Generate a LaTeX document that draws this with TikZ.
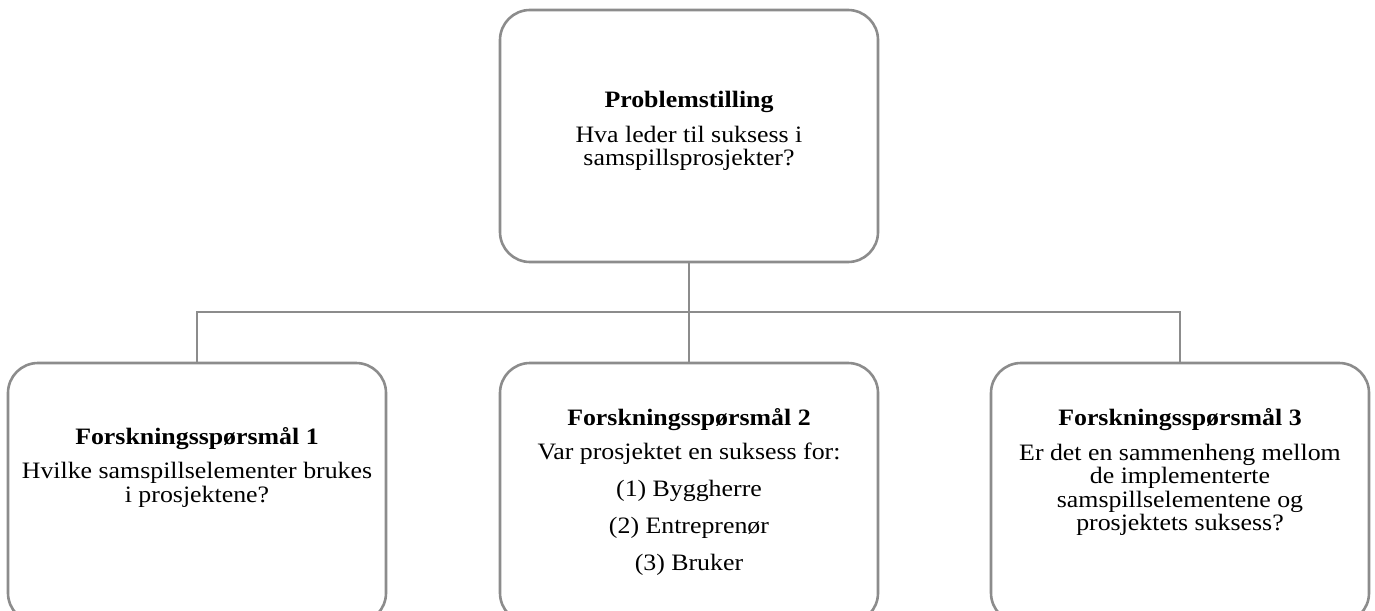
\documentclass[tikz,border=0pt]{standalone}
\usepackage{fontspec}
\setmainfont[FakeStretch=1.1]{Liberation Serif}
\definecolor{linegray}{RGB}{140,140,140}
\begin{document}
\begin{tikzpicture}[x=1pt,y=-1pt,
  qbox/.style={draw=linegray, line width=2.6pt, rounded corners=30pt,
    minimum width=378pt, minimum height=#1, inner sep=0pt},
  qtext/.style={align=center, inner sep=0pt, font=\fontsize{23.5}{23.5}\selectfont},
  link/.style={draw=linegray, line width=2.6pt, line join=miter}]
\useasboundingbox (0,0) rectangle (1375,610);
\clip (0,0) rectangle (1375,610);

% boxes
\node[qbox=252pt] (top) at (689,136) {};
\node[qbox=260pt] (b1) at (197,493) {};
\node[qbox=260pt] (b2) at (689,493) {};
\node[qbox=260pt] (b3) at (1180,493) {};

% texts
\node[qtext] (ttop) at (689,131) {\textbf{Problemstilling}\\[11pt]
  Hva leder til suksess i\\samspillsprosjekter?};
\node[qtext] (t1) at (197,467) {\textbf{Forskningsspørsmål 1}\\[11pt]
  Hvilke samspillselementer brukes\\i prosjektene?};
\node[qtext] (t2) at (689,492) {\textbf{Forskningsspørsmål 2}\\[11pt]
  Var prosjektet en suksess for:\\[13.5pt]
  (1) Byggherre\\[13.5pt](2) Entreprenør\\[13.5pt](3) Bruker};
\node[qtext] (t3) at (1180,472) {\textbf{Forskningsspørsmål 3}\\[11pt]
  Er det en sammenheng mellom\\de implementerte\\
  samspillselementene og\\prosjektets suksess?};

% connectors
\coordinate (bar) at (689,312);
\draw[link] (top.south) -- (bar) -- (b2.north);
\draw[link] (b1.north) |- (b3.north |- bar) -- (b3.north);
\end{tikzpicture}
\end{document}
